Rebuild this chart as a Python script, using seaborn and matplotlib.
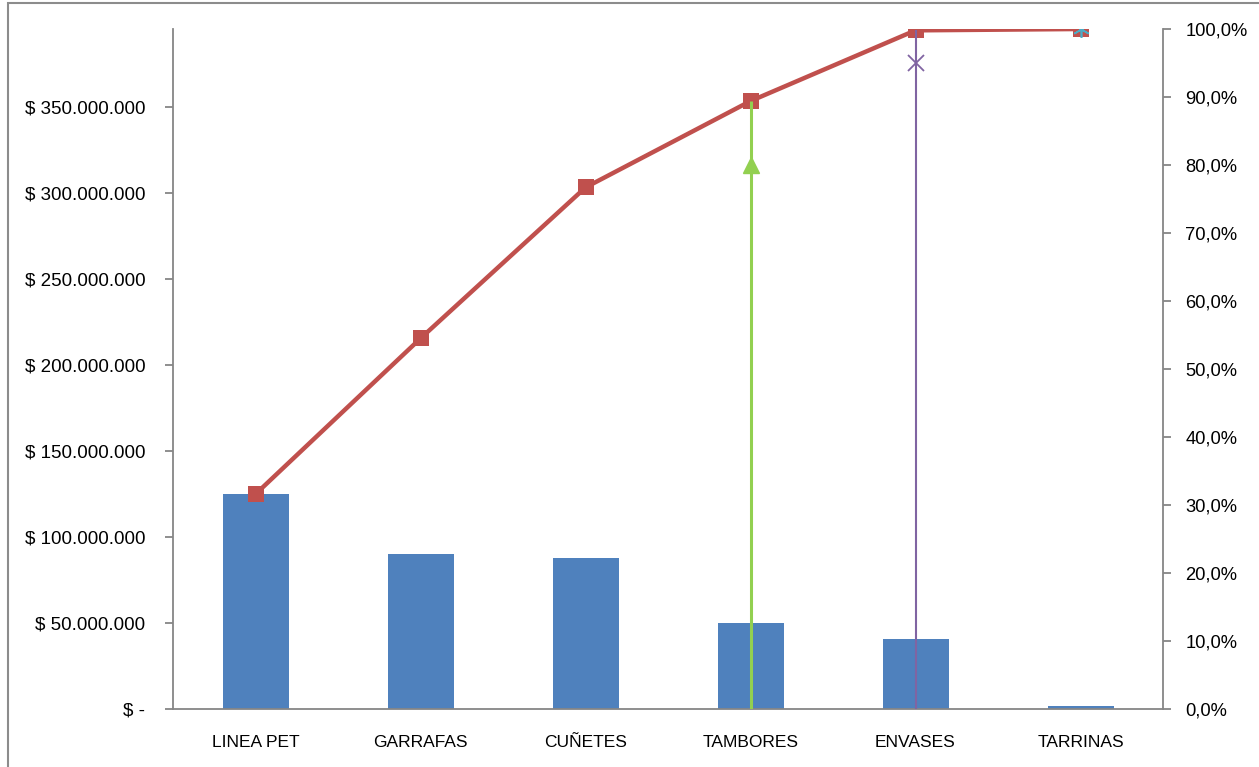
import matplotlib
matplotlib.use("Agg")
import matplotlib.pyplot as plt
import matplotlib.ticker as mticker
from matplotlib.patches import Rectangle
import numpy as np
import seaborn as sns

categories = ["LINEA PET", "GARRAFAS", "CUÑETES", "TAMBORES", "ENVASES", "TARRINAS"]
costs = [125.0e6, 90.0e6, 88.0e6, 50.0e6, 40.7e6, 1.6e6]
cum_pct = [0.316, 0.545, 0.767, 0.894, 0.998, 1.000]
# reference markers (80%, 95%, 100%)
ref80_idx, ref80_val = 3, 0.80
ref95_idx, ref95_val = 4, 0.95
ref100_idx, ref100_val = 5, 1.00

sns.set_theme(style="white")
plt.rcParams['font.family'] = ['Liberation Sans', 'DejaVu Sans']

W, H = 1259, 767
fig = plt.figure(figsize=(W / 100, H / 100), dpi=100)
fig.patch.set_facecolor("white")
fig.patches.append(Rectangle((8 / W, -0.1), 1.2, 1 - 3 / H + 0.1, transform=fig.transFigure,
                             fill=False, edgecolor="#8c8c8c", linewidth=1.5))

ax = fig.add_axes([173 / W, 1 - 709 / H, (1163 - 173) / W, (709 - 29) / H])
ax.set_facecolor("none")

sns.barplot(x=categories, y=costs, color="#4F81BD", width=0.4, ax=ax, saturation=1,
            linewidth=0)
ax.set_xlim(-0.5, 5.5)
ax.set_ylim(0, sum(costs))
ax.set_yticks(np.arange(0, 350e6 + 1, 50e6))

def money(v, pos):
    if v == 0:
        return "$ -"
    return "$ " + f"{int(round(v)):,}".replace(",", ".")

ax.yaxis.set_major_formatter(mticker.FuncFormatter(money))
ax.set_xlabel("")
ax.set_ylabel("")

grey = "#868686"
for s in ["top", "right"]:
    ax.spines[s].set_visible(False)
for s in ["left", "bottom"]:
    ax.spines[s].set_color(grey)
    ax.spines[s].set_linewidth(1.3)

ax.set_xticks(np.arange(len(categories)))
ax.set_xticklabels(categories)
ax.set_xticks(np.arange(-0.5, 6, 1.0), minor=True)
ax.tick_params(axis="x", which="major", length=0, pad=19, labelsize=12.5, colors="black")
ax.tick_params(axis="x", which="minor", length=6, width=1.3, color=grey, direction="out")
ax.tick_params(axis="y", which="major", length=6, width=1.3, color=grey, direction="out",
               labelsize=13.5, labelcolor="black", pad=14)

ax2 = ax.twinx()
ax2.set_ylim(0, 1.0)
ax2.set_yticks(np.arange(0, 1.0001, 0.1))
ax2.yaxis.set_major_formatter(mticker.FuncFormatter(lambda v, p: f"{v*100:.1f}%".replace(".", ",")))
for s in ["top", "left", "bottom"]:
    ax2.spines[s].set_visible(False)
ax2.spines["right"].set_color(grey)
ax2.spines["right"].set_linewidth(1.3)
ax2.tick_params(axis="y", length=6, width=1.3, color=grey, direction="out",
                labelsize=13.2, labelcolor="black", pad=10)

xs = np.arange(len(categories))
sns.lineplot(x=xs, y=cum_pct, ax=ax2, color="#C0504D", linewidth=3.2, marker="s",
             markersize=11, markeredgewidth=0, zorder=3)
ax2.set_xlim(-0.5, 5.5)

ax2.vlines(ref80_idx, 0, cum_pct[ref80_idx], color="#92D050", linewidth=2.2, zorder=4)
ax2.plot([ref80_idx], [ref80_val], marker="^", color="#92D050", markersize=11, zorder=5)
ax2.vlines(ref95_idx, 0, cum_pct[ref95_idx], color="#8064A2", linewidth=1.5, zorder=4)
ax2.plot([ref95_idx], [ref95_val], marker="x", color="#8064A2", markersize=12,
         markeredgewidth=1.3, zorder=5)
ax2.plot([ref100_idx], [ref100_val], marker=(6, 2, 0), color="#4BACC6", markersize=12,
         markeredgewidth=1.2, zorder=5)

fig.savefig("out.png", dpi=100)
